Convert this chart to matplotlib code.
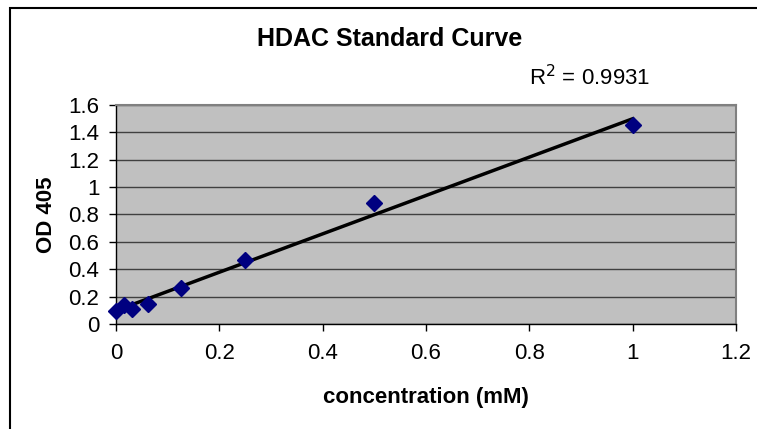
import numpy as np
import matplotlib.pyplot as plt
from matplotlib.patches import Rectangle

plt.rcParams['font.family'] = ['Liberation Sans', 'DejaVu Sans']

conc = [0, 0.0156, 0.03125, 0.0625, 0.125, 0.25, 0.5, 1.0]
od405 = [0.092, 0.14, 0.11, 0.148, 0.265, 0.47, 0.885, 1.455]
r2_text = 'R$^2$ = 0.9931'

fig = plt.figure(figsize=(7.57, 4.29), dpi=100)
fig.patches.append(Rectangle((10 / 757, -0.1), 1.2, 1.1 - 8 / 429,
                             transform=fig.transFigure, fill=False,
                             edgecolor='black', linewidth=1.5))

ax = fig.add_axes([116 / 757, 105 / 429, 620 / 757, 219 / 429])
ax.set_facecolor('#c0c0c0')

# linear trendline
m, b = np.polyfit(conc, od405, 1)
xs = np.array([0, 1.0])
ax.plot(xs, m * xs + b, color='black', linewidth=2.5, zorder=3)
ax.plot(conc, od405, linestyle='none', marker='D', markersize=8.5,
        color='#000080', zorder=4, clip_on=False)

ax.set_xlim(0, 1.2)
ax.set_ylim(0, 1.6)
ax.set_xticks(np.arange(0, 1.21, 0.2))
ax.set_yticks(np.arange(0, 1.61, 0.2))
ax.set_xticklabels(['0', '0.2', '0.4', '0.6', '0.8', '1', '1.2'])
ax.set_yticklabels(['0', '0.2', '0.4', '0.6', '0.8', '1', '1.2', '1.4', '1.6'])
ax.yaxis.grid(True, color='#404040', linewidth=1)
ax.set_axisbelow(True)
ax.tick_params(labelsize=16, direction='out', length=5, width=1, color='black')
ax.tick_params(axis='x', pad=9)
ax.tick_params(axis='y', pad=7)

for s in ['top', 'right']:
    ax.spines[s].set_color('#808080')
    ax.spines[s].set_linewidth(1.5)
for s in ['left', 'bottom']:
    ax.spines[s].set_color('black')
    ax.spines[s].set_linewidth(1)

ax.set_xlabel('concentration (mM)', fontsize=16, fontweight='bold', va='center')
ax.set_ylabel('OD 405', fontsize=16, fontweight='bold', va='center')
ax.xaxis.set_label_coords(0.5, -74 / 219)
ax.yaxis.set_label_coords(-70 / 620, 0.5)

fig.text(390 / 757, 1 - 39 / 429, 'HDAC Standard Curve', fontsize=18,
         fontweight='bold', ha='center', va='center')
fig.text(590 / 757, 1 - 78 / 429, r2_text, fontsize=16, ha='center', va='center')

fig.savefig('out.png', dpi=100)
